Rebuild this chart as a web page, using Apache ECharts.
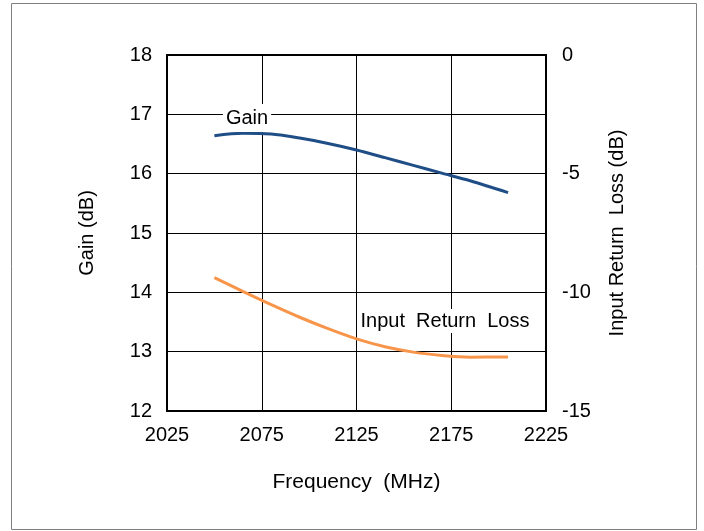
<!DOCTYPE html>
<html><head><meta charset="utf-8">
<script src="https://cdn.jsdelivr.net/npm/echarts@6/dist/echarts.min.js"></script>
<style>html,body{margin:0;padding:0;background:#fff}#c{width:704px;height:531px}</style>
</head><body><div id="c"></div>
<script>
const gainFreq = [2050, 2065, 2080, 2095, 2110, 2125, 2140, 2155, 2170, 2185, 2205];
const gainValues = [16.64, 16.68, 16.67, 16.60, 16.51, 16.40, 16.27, 16.14, 16.01, 15.88, 15.68];
const irlFreq = [2050, 2065, 2080, 2095, 2110, 2125, 2140, 2155, 2170, 2185, 2205];
const irlValues = [-9.38, -9.96, -10.52, -11.05, -11.53, -11.96, -12.29, -12.52, -12.66, -12.73, -12.72];
const xTicks = [2025, 2075, 2125, 2175, 2225];
const gainTicks = [12, 13, 14, 15, 16, 17, 18];
const irlTicks = [-15, -10, -5, 0];

const FONT = 'Liberation Sans, Arial, sans-serif';
const chart = echarts.init(document.getElementById('c'));
chart.setOption({
  animation: false,
  backgroundColor: '#fff',
  grid: { left: 167, top: 55, width: 379, height: 356, show: true, borderColor: '#000', borderWidth: 2, backgroundColor: 'transparent' },
  xAxis: {
    type: 'value', min: xTicks[0], max: xTicks[xTicks.length - 1], interval: 50,
    name: 'Frequency  (MHz)', nameLocation: 'middle', nameGap: 61,
    nameTextStyle: { fontSize: 21, color: '#000', fontFamily: FONT },
    axisLine: { show: false }, axisTick: { show: false },
    axisLabel: { fontSize: 20, color: '#000', fontFamily: FONT, margin: 14, formatter: v => String(v) },
    splitLine: { show: true, lineStyle: { color: '#000', width: 1 } }
  },
  yAxis: [{
    type: 'value', min: gainTicks[0], max: gainTicks[gainTicks.length - 1], interval: 1,
    name: 'Gain (dB)', nameLocation: 'middle', nameGap: 70, nameRotate: 90,
    nameTextStyle: { fontSize: 20, color: '#000', fontFamily: FONT },
    axisLine: { show: false }, axisTick: { show: false },
    axisLabel: { fontSize: 20, color: '#000', fontFamily: FONT, margin: 15 },
    splitLine: { show: true, lineStyle: { color: '#000', width: 1 } }
  }, {
    type: 'value', position: 'right', min: irlTicks[0], max: irlTicks[irlTicks.length - 1], interval: 5,
    name: 'Input Return  Loss (dB)', nameLocation: 'middle', nameGap: 61, nameRotate: 90,
    nameTextStyle: { fontSize: 20, color: '#000', fontFamily: FONT },
    axisLine: { show: false }, axisTick: { show: false },
    axisLabel: { fontSize: 20, color: '#000', fontFamily: FONT, margin: 16 },
    splitLine: { show: false }
  }],
  series: [{
    name: 'Gain', type: 'line', smooth: 0.3, showSymbol: false, yAxisIndex: 0,
    data: gainFreq.map((f, i) => [f, gainValues[i]]),
    lineStyle: { color: '#1f4e87', width: 3 }, z: 3
  }, {
    name: 'Input Return Loss', type: 'line', smooth: 0.3, showSymbol: false, yAxisIndex: 1,
    data: irlFreq.map((f, i) => [f, irlValues[i]]),
    lineStyle: { color: '#f7964a', width: 3 }, z: 3
  }],
  graphic: [
    { type: 'rect', shape: { x: 11.5, y: 3.5, width: 685, height: 526 }, style: { fill: 'none', stroke: '#7f7f7f', lineWidth: 1 }, z: 0 },
    { type: 'text', x: 247, y: 118, z: 10, style: { text: 'Gain', font: '20px ' + FONT, fill: '#000', align: 'center', verticalAlign: 'middle', backgroundColor: '#fff', padding: [4, 3] } },
    { type: 'text', x: 445, y: 321, z: 10, style: { text: 'Input  Return  Loss', font: '20px ' + FONT, fill: '#000', align: 'center', verticalAlign: 'middle', backgroundColor: '#fff', padding: [2, 2] } }
  ]
});
</script></body></html>
